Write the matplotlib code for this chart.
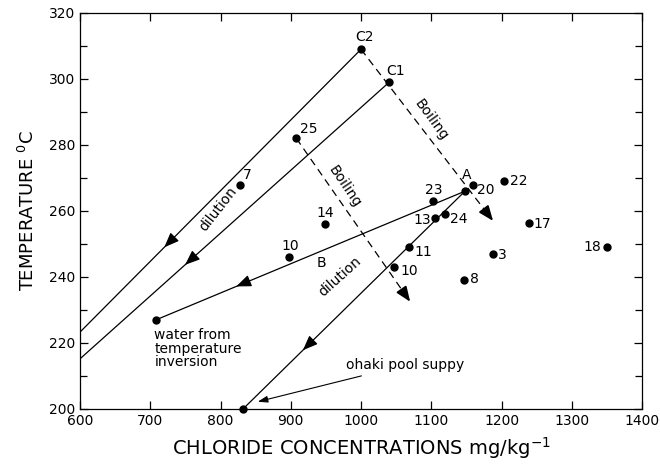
import matplotlib
matplotlib.use("Agg")
import matplotlib.pyplot as plt
import numpy as np

plt.rcParams['font.family'] = ['DejaVu Sans']

# ---- data ----
point_labels = ["C2", "C1", "25", "7", "A", "20", "22", "23", "13", "24", "11", "10",
                "3", "8", "17", "18", "14", "10b"]
point_x = [1000, 1040, 908, 828, 1148, 1159, 1204, 1103, 1105, 1119, 1069, 1047,
           1188, 1146, 1239, 1350, 949, 898]
point_y = [309, 299, 282, 268, 266, 268, 269, 263, 258, 259, 249, 243,
           247, 239, 256.5, 249, 256, 246]

water_pt = (708, 227)       # water from temperature inversion
ohaki_pt = (832, 200)       # ohaki pool supply

# dilution lines (start -> end)
dil_C2 = [(1000, 309), (600, 223.3)]
dil_C1 = [(1040, 299), (600, 215.2)]
dil_A_water = [(1148, 266), water_pt]
dil_A_ohaki = [(1148, 266), ohaki_pt]

# boiling lines (start -> arrow tip)
boil_1 = [(1000, 309), (1188, 257)]
boil_2 = [(908, 282), (1070, 232.5)]

x_ticks = [600, 700, 800, 900, 1000, 1100, 1200, 1300, 1400]
y_ticks = [200, 220, 240, 260, 280, 300, 320]

# ---- figure ----
fig = plt.figure(figsize=(6.6, 4.7), dpi=100)
ax = fig.add_axes([80/660, 1-409/470, (642-80)/660, (409-13)/470])
ax.set_xlim(600, 1400)
ax.set_ylim(200, 320)

lw = 0.9
head = '-|>,head_length=1.0,head_width=0.4'

def line_with_arrow(seg, frac):
    (x0, y0), (x1, y1) = seg
    ax.plot([x0, x1], [y0, y1], color='black', lw=lw, zorder=2)
    xa = x0 + (x1 - x0) * frac
    ya = y0 + (y1 - y0) * frac
    xb = x0 + (x1 - x0) * (frac + 0.03)
    yb = y0 + (y1 - y0) * (frac + 0.03)
    ax.annotate('', xy=(xb, yb), xytext=(xa, ya),
                arrowprops=dict(arrowstyle=head, color='black', lw=lw,
                                mutation_scale=9, shrinkA=0, shrinkB=0),
                zorder=3)

line_with_arrow(dil_C2, 0.67)
line_with_arrow(dil_C1, 0.63)
line_with_arrow(dil_A_water, 0.71)
line_with_arrow(dil_A_ohaki, 0.70)

def dashed_arrow(seg):
    (x0, y0), (x1, y1) = seg
    xe = x0 + (x1 - x0) * 0.94
    ye = y0 + (y1 - y0) * 0.94
    ax.plot([x0, xe], [y0, ye], color='black', lw=lw, ls=(0, (6, 4)), zorder=2)
    ax.annotate('', xy=(x1, y1), xytext=(xe, ye),
                arrowprops=dict(arrowstyle=head, color='black', lw=1.3,
                                mutation_scale=9, shrinkA=0, shrinkB=0),
                zorder=3)

dashed_arrow(boil_1)
dashed_arrow(boil_2)

# points
ax.plot(point_x, point_y, 'o', color='black', ms=5, zorder=4, clip_on=False)
ax.plot([water_pt[0], ohaki_pt[0]], [water_pt[1], ohaki_pt[1]], 'o', color='black',
        ms=5, zorder=4, clip_on=False)

# labels (offset in pixels, alignment)
offsets = {
    "C2": (3, 12, 'center'), "C1": (6, 11, 'center'), "25": (12, 9, 'center'),
    "7": (7, 10, 'center'), "A": (2, 16, 'center'), "20": (4, -5, 'left'),
    "22": (6, 0, 'left'), "23": (0, 11, 'center'), "13": (-4, -2, 'right'),
    "24": (5, -5, 'left'), "11": (5, -5, 'left'), "10": (6, -4, 'left'),
    "3": (5, -1, 'left'), "8": (6, 1, 'left'), "17": (5, -1, 'left'),
    "18": (-6, 0, 'right'), "14": (0, 11, 'center'), "10b": (1, 11, 'center'),
}
for lab, x, y in zip(point_labels, point_x, point_y):
    dx, dy, ha = offsets[lab]
    ax.annotate(lab.replace('b', ''), (x, y), xytext=(dx, dy), textcoords='offset pixels',
                ha=ha, va='center', fontsize=10)

ax.text(944, 244.2, 'B', ha='center', va='center', fontsize=10)

ax.text(797, 260.5, 'dilution', rotation=52, ha='center', va='center', fontsize=10,
        rotation_mode='anchor')
ax.text(970, 240.1, 'dilution', rotation=42, ha='center', va='center', fontsize=10,
        rotation_mode='anchor')
ax.text(1100.6, 287.6, 'Boiling', rotation=-54, ha='center', va='center', fontsize=10,
        rotation_mode='anchor')
ax.text(977, 267.4, 'Boiling', rotation=-56, ha='center', va='center', fontsize=10,
        rotation_mode='anchor')

ax.text(706, 224.5, 'water from\ntemperature\ninversion', ha='left', va='top',
        fontsize=10, linespacing=0.95)

ax.annotate('ohaki pool suppy', xy=(853, 202.2), xytext=(978, 213.3),
            ha='left', va='center', fontsize=10,
            arrowprops=dict(arrowstyle='-|>,head_length=0.6,head_width=0.2',
                            color='black', lw=0.8, mutation_scale=10,
                            shrinkA=3, shrinkB=0))

# axes styling
ax.set_xticks(x_ticks)
ax.set_yticks(y_ticks)
ax.set_yticks(np.arange(210, 320, 20), minor=True)
ax.tick_params(axis='both', which='both', direction='in', labelsize=10,
               top=True, right=True, length=6, width=0.9)
ax.tick_params(axis='y', which='minor', length=5)
for s in ax.spines.values():
    s.set_linewidth(0.9)

ax.set_xlabel('CHLORIDE CONCENTRATIONS mg/kg$^{-1}$', fontsize=14, labelpad=5)
ax.set_ylabel('TEMPERATURE $^{0}$C', fontsize=13, labelpad=8)

fig.savefig('out.png', dpi=100)
